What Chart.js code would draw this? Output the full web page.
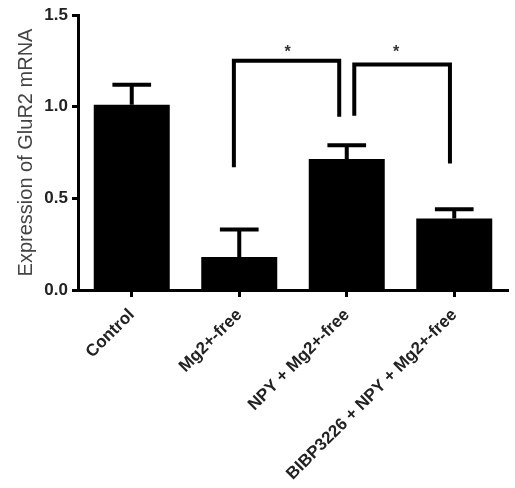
<!DOCTYPE html>
<html>
<head>
<meta charset="utf-8">
<script src="https://cdn.jsdelivr.net/npm/chart.js@4.4.1/dist/chart.umd.min.js"></script>
<style>
html,body{margin:0;padding:0;background:#fff;}
canvas{display:block;}
</style>
</head>
<body>
<canvas id="c" width="515" height="488"></canvas>
<script>
const categories = ['Control', 'Mg2+-free', 'NPY + Mg2+-free', 'BIBP3226 + NPY + Mg2+-free'];
const means = [1.01, 0.18, 0.715, 0.39];
const errors = [0.11, 0.15, 0.075, 0.05];
const yTicks = [0.0, 0.5, 1.0, 1.5];
const yTitle = 'Expression of GluR2 mRNA';
// significance brackets: [x-left, x-right] (category units), [y-left-end, y-top, y-right-end]
const bracket1X = [0.95, 1.93];
const bracket1Y = [0.67, 1.25, 0.945];
const bracket2X = [2.07, 2.96];
const bracket2Y = [0.95, 1.23, 0.69];
const starLabels = ['*', '*'];
const starX = [1.45, 2.46];
const starY = 1.31;

const FONT = "'Liberation Sans', Arial, sans-serif";
const capHalf = 0.18;

const errPts = [];
means.forEach((m, i) => {
  const top = m + errors[i];
  errPts.push({x: i, y: m}, {x: i, y: top}, {x: i, y: null});
  errPts.push({x: i - capHalf, y: top}, {x: i + capHalf, y: top}, {x: i + capHalf, y: null});
});
function bracketPts(bx, by) {
  return [{x: bx[0], y: by[0]}, {x: bx[0], y: by[1]}, {x: bx[1], y: by[1]}, {x: bx[1], y: by[2]}];
}
const brPts = bracketPts(bracket1X, bracket1Y).concat([{x: bracket1X[1], y: null}], bracketPts(bracket2X, bracket2Y));

const starPlugin = {
  id: 'stars',
  afterDatasetsDraw(chart) {
    const ctx = chart.ctx, xs = chart.scales.xe, ys = chart.scales.y;
    ctx.save();
    ctx.fillStyle = '#333';
    ctx.font = 'bold 16px ' + FONT;
    ctx.textAlign = 'center';
    ctx.textBaseline = 'middle';
    starX.forEach((m, i) => ctx.fillText(starLabels[i], xs.getPixelForValue(m), ys.getPixelForValue(starY) + 3));
    ctx.restore();
  }
};

new Chart(document.getElementById('c'), {
  type: 'bar',
  data: {
    labels: categories,
    datasets: [
      {
        type: 'bar', data: means, backgroundColor: '#000', borderWidth: 0, grouped: false,
        barPercentage: 0.707, categoryPercentage: 1.0, order: 1
      },
      {
        type: 'line', xAxisID: 'xe', data: errPts, borderColor: '#000', borderWidth: 4,
        pointRadius: 0, spanGaps: false, borderCapStyle: 'butt', tension: 0, order: 2
      },
      {
        type: 'line', xAxisID: 'xe', data: brPts, borderColor: '#000', borderWidth: 4,
        pointRadius: 0, spanGaps: false, borderCapStyle: 'butt', borderJoinStyle: 'miter', tension: 0, order: 0
      }
    ]
  },
  options: {
    responsive: false,
    animation: false,
    devicePixelRatio: 1,
    layout: {padding: {left: 0, right: 7, top: 15, bottom: 0}},
    plugins: {legend: {display: false}, tooltip: {enabled: false}},
    scales: {
      x: {
        offset: true,
        grid: {display: true, drawOnChartArea: false, offset: false, tickLength: 7, tickWidth: 3, color: '#000'},
        border: {display: true, color: '#000', width: 3},
        ticks: {
          minRotation: 45, maxRotation: 45, autoSkip: false, padding: 8,
          color: '#222', font: {family: FONT, size: 17, weight: 'bold'}
        },
        afterFit(s) { s.height = 198; }
      },
      xe: {type: 'linear', display: false, offset: false, min: -0.5, max: 3.5},
      y: {
        min: 0, max: 1.5,
        afterBuildTicks(s) { s.ticks = yTicks.map(v => ({value: v})); },
        grid: {display: true, drawOnChartArea: false, tickLength: 6, tickWidth: 3, color: '#000'},
        border: {display: true, color: '#000', width: 3},
        ticks: {
          padding: 4, color: '#222',
          font: {family: FONT, size: 17, weight: 'bold'},
          callback: v => Number(v).toFixed(1)
        },
        title: {
          display: true, text: yTitle, color: '#444', padding: {top: 14, bottom: 2},
          font: {family: FONT, size: 20}
        },
        afterFit(s) { s.width = 78; }
      }
    }
  },
  plugins: [starPlugin]
});
</script>
</body>
</html>
